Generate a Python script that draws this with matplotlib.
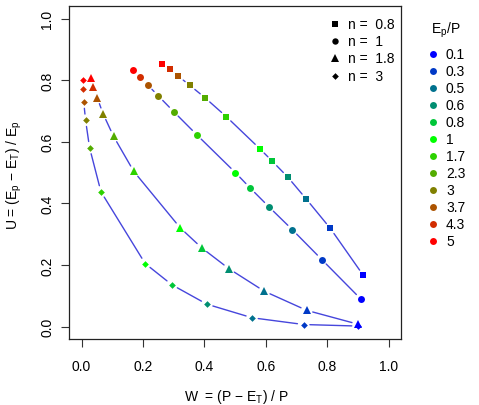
import matplotlib
matplotlib.use("Agg")
import matplotlib.pyplot as plt
from matplotlib.lines import Line2D
import numpy as np

plt.rcParams['font.family'] = ['Liberation Sans', 'DejaVu Sans']
plt.rcParams['mathtext.fontset'] = 'custom'
plt.rcParams['mathtext.rm'] = 'Liberation Sans'
plt.rcParams['mathtext.it'] = 'Liberation Sans:italic'
plt.rcParams['mathtext.bf'] = 'Liberation Sans:bold'

# Ep/P classes (colour legend)
ep_p_labels = ["0.1", "0.3", "0.5", "0.6", "0.8", "1", "1.7", "2.3", "3", "3.7", "4.3", "5"]
ep_p_colors = ["#0000ff", "#0039c6", "#00718e", "#008e71", "#00c639", "#00ff00",
               "#2dd200", "#53ac00", "#808000", "#ac5300", "#d22d00", "#ff0000"]

n_labels = ["n =  0.8", "n =  1", "n =  1.8", "n =  3"]
n_markers = ["s", "o", "^", "D"]
n_sizes = [5.0, 5.0, 6.0, 3.4]

# values ordered Ep/P = 0.1 ... 5
W_n08 = [0.917, 0.810, 0.731, 0.671, 0.621, 0.580, 0.471, 0.402, 0.353, 0.315, 0.287, 0.263]
U_n08 = [0.167, 0.319, 0.415, 0.486, 0.537, 0.578, 0.682, 0.743, 0.783, 0.813, 0.835, 0.852]
W_n1 = [0.909, 0.782, 0.686, 0.610, 0.549, 0.501, 0.375, 0.300, 0.250, 0.215, 0.189, 0.168]
U_n1 = [0.090, 0.218, 0.315, 0.389, 0.450, 0.500, 0.623, 0.698, 0.749, 0.785, 0.812, 0.832]
W_n18 = [0.900, 0.733, 0.595, 0.480, 0.391, 0.321, 0.170, 0.104, 0.070, 0.051, 0.038, 0.030]
U_n18 = [0.008, 0.053, 0.115, 0.188, 0.256, 0.321, 0.504, 0.618, 0.691, 0.743, 0.779, 0.808]
W_n3 = [0.900, 0.723, 0.555, 0.408, 0.294, 0.207, 0.063, 0.026, 0.013, 0.007, 0.004, 0.004]
U_n3 = [0.002, 0.007, 0.029, 0.073, 0.136, 0.205, 0.438, 0.581, 0.670, 0.729, 0.771, 0.800]

series_W = [W_n08, W_n1, W_n18, W_n3]
series_U = [U_n08, U_n1, U_n18, U_n3]

W_PX, H_PX = 479, 406
fig = plt.figure(figsize=(W_PX / 100, H_PX / 100), dpi=100)
ax = fig.add_axes([69.3 / W_PX, 1 - 340 / H_PX, (401 - 69.3) / W_PX, (340 - 7.3) / H_PX])
ax.set_xlim(-0.04, 1.04)
ax.set_ylim(-0.04, 1.04)

line_col = "#4646dc"
shrink_pt = 4.5
shrink_px = shrink_pt * fig.dpi / 72
for W, U, mk, ms in zip(series_W, series_U, n_markers, n_sizes):
    pts = ax.transData.transform(np.column_stack([W, U]))
    for i in range(len(W) - 1):
        if np.hypot(*(pts[i + 1] - pts[i])) <= 2 * shrink_px + 1:
            continue
        ax.annotate("", xy=(W[i + 1], U[i + 1]), xytext=(W[i], U[i]),
                    arrowprops=dict(arrowstyle="-", color=line_col, lw=1.0,
                                    shrinkA=shrink_pt, shrinkB=shrink_pt))
    for w, u, c in zip(W, U, ep_p_colors):
        ax.plot([w], [u], marker=mk, color=c, markersize=ms, markeredgewidth=0, linestyle="none")

ticks = [0.0, 0.2, 0.4, 0.6, 0.8, 1.0]
ax.set_xticks(ticks)
ax.set_yticks(ticks)
ax.set_xticklabels([f"{t:.1f}" for t in ticks], fontsize=10)
ax.set_yticklabels([f"{t:.1f}" for t in ticks], fontsize=10, rotation=90, va="center")
ax.tick_params(direction="out", length=5.5, width=0.8, color="#333333")
ax.tick_params(axis="x", pad=9)
ax.tick_params(axis="y", pad=5.5)
for s in ax.spines.values():
    s.set_linewidth(0.9)
    s.set_color("#222222")

fig.text(236 / W_PX, 1 - 397 / H_PX, r"W  = (P $-$ E$_\mathrm{T}$) / P", fontsize=10,
         ha="center", va="center")
fig.text(14 / W_PX, 1 - 175 / H_PX, r"U = (E$_\mathrm{p}$ $-$ E$_\mathrm{T}$) / E$_\mathrm{p}$",
         fontsize=10, ha="center", va="center", rotation=90)

# legend for n (inside plot)
for k, (lab, mk) in enumerate(zip(n_labels, n_markers)):
    y = 25 + k * 17.2
    ms = {"s": 4.4, "o": 4.6, "^": 5.8, "D": 3.4}[mk]
    fig.add_artist(Line2D([335 / W_PX], [1 - y / H_PX], marker=mk, color="black",
                          markersize=ms, markeredgewidth=0, linestyle="none",
                          transform=fig.transFigure))
    fig.text(347.5 / W_PX, 1 - y / H_PX, lab, fontsize=10, ha="left", va="center")

# legend for Ep/P (outside)
fig.text(446 / W_PX, 1 - 30 / H_PX, r"E$_\mathrm{p}$/P", fontsize=10, ha="center", va="center")
for k, (lab, c) in enumerate(zip(ep_p_labels, ep_p_colors)):
    y = 55 + k * 16.97
    fig.add_artist(Line2D([433.3 / W_PX], [1 - y / H_PX], marker="o", color=c,
                          markersize=5, markeredgewidth=0, linestyle="none",
                          transform=fig.transFigure))
    fig.text(446 / W_PX, 1 - y / H_PX, lab, fontsize=10, ha="left", va="center")

fig.savefig("out.png", dpi=100)
